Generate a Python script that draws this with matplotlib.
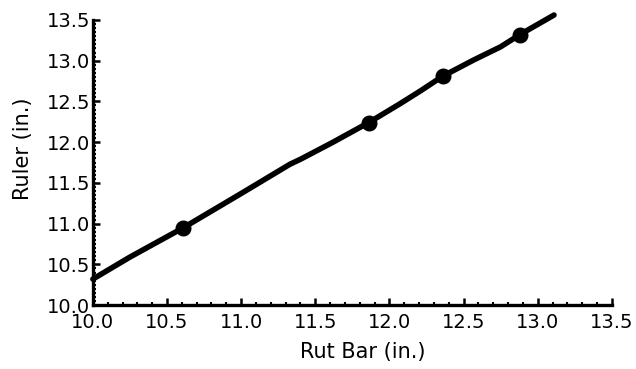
import numpy as np
import matplotlib.pyplot as plt
from matplotlib.ticker import MultipleLocator

# traced calibration curve (rut bar reading vs ruler reading)
curve_x = [10.0, 10.25, 10.61, 11.0, 11.33, 11.40, 11.62, 11.86, 12.07, 12.21, 12.36, 12.57, 12.75, 12.88, 13.11]
curve_y = [10.32, 10.59, 10.95, 11.37, 11.73, 11.79, 12.0, 12.24, 12.47, 12.63, 12.81, 13.01, 13.17, 13.32, 13.56]

# measured points
pts_x = [10.61, 11.86, 12.36, 12.88]
pts_y = [10.95, 12.24, 12.81, 13.32]

plt.rcParams['font.family'] = ['DejaVu Sans']

fig = plt.figure(figsize=(6.36, 3.69), dpi=100)
ax = fig.add_axes([0.146, 0.173, 0.816, 0.773])

ax.plot(curve_x, curve_y, color='black', lw=4, solid_capstyle='round',
        solid_joinstyle='round', clip_on=False)
ax.plot(pts_x, pts_y, 'o', color='black', ms=10.5)

ax.set_xlim(10.0, 13.5)
ax.set_ylim(10.0, 13.5)
ax.xaxis.set_major_locator(MultipleLocator(0.5))
ax.yaxis.set_major_locator(MultipleLocator(0.5))
ax.xaxis.set_minor_locator(MultipleLocator(0.1))
ax.yaxis.set_minor_locator(MultipleLocator(0.05))
ax.xaxis.set_major_formatter(lambda v, p: f"{v:.1f}")
ax.yaxis.set_major_formatter(lambda v, p: f"{v:.1f}")

for side in ['top', 'right']:
    ax.spines[side].set_visible(False)
for side in ['left', 'bottom']:
    ax.spines[side].set_linewidth(2.4)

ax.tick_params(which='major', direction='in', length=5, width=1.8, labelsize=14)
ax.tick_params(axis='x', which='major', pad=6)
ax.tick_params(axis='y', which='major', pad=2)
ax.tick_params(which='minor', direction='in', length=2.5, width=1.5)

ax.set_xlabel('Rut Bar (in.)', fontsize=15)
ax.xaxis.set_label_coords(0.52, -0.13)
ax.set_ylabel('Ruler (in.)', fontsize=15)
ax.yaxis.set_label_coords(-0.115, 0.55)

fig.savefig('out.png', dpi=100)
